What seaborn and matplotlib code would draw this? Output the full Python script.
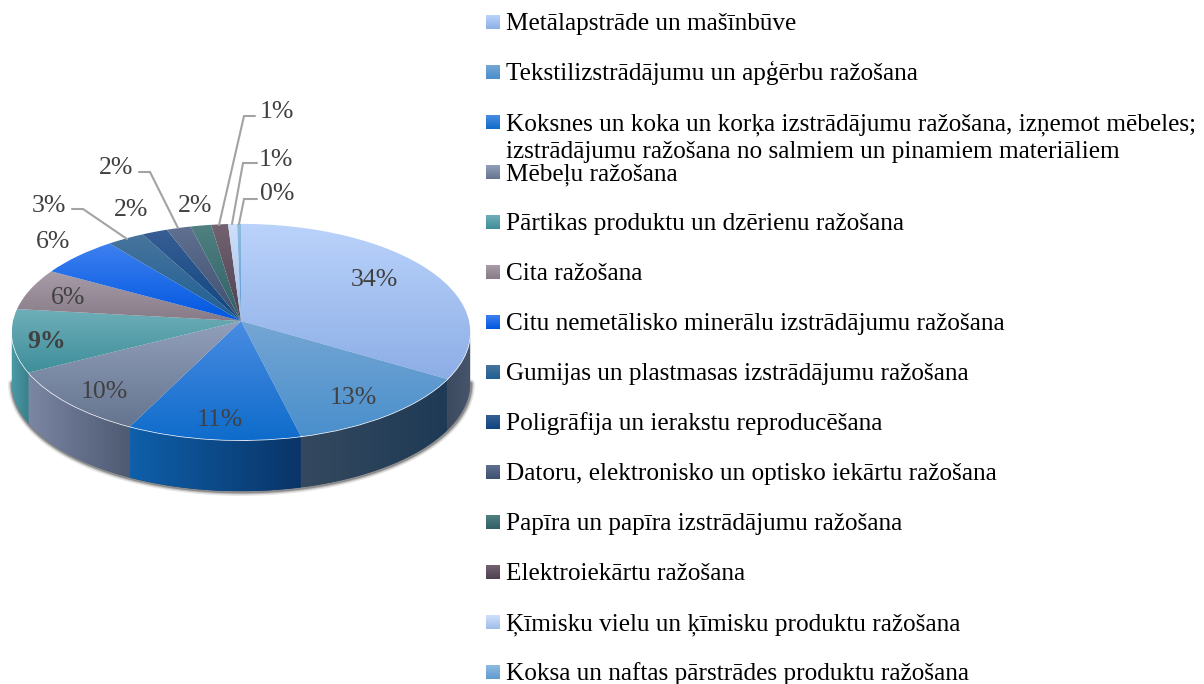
import numpy as np
import matplotlib
matplotlib.use('Agg')
import matplotlib.pyplot as plt
import seaborn as sns
from matplotlib.colors import to_rgb
from matplotlib.patches import Polygon
from matplotlib.transforms import Transform

categories = [
    'Metālapstrāde un mašīnbūve',
    'Tekstilizstrādājumu un apģērbu ražošana',
    'Koksnes un koka un korķa izstrādājumu ražošana, izņemot mēbeles;\nizstrādājumu ražošana no salmiem un pinamiem materiāliem',
    'Mēbeļu ražošana',
    'Pārtikas produktu un dzērienu ražošana',
    'Cita ražošana',
    'Citu nemetālisko minerālu izstrādājumu ražošana',
    'Gumijas un plastmasas izstrādājumu ražošana',
    'Poligrāfija un ierakstu reproducēšana',
    'Datoru, elektronisko un optisko iekārtu ražošana',
    'Papīra un papīra izstrādājumu ražošana',
    'Elektroiekārtu ražošana',
    'Ķīmisku vielu un ķīmisku produktu ražošana',
    'Koksa un naftas pārstrādes produktu ražošana',
]
shares = [33.6, 12.6, 11.1, 10.1, 9.4, 6.3, 6.2, 2.9, 2.0, 1.9, 1.6, 1.3, 0.7, 0.3]

# top face colours, light end and dark end of the gradient
light = ['#BAD3FB', '#75A6D4', '#4A8CE2', '#919FBA', '#6EAEB8', '#A99CA9', '#3E80F0',
         '#47749C', '#375E94', '#5F7090', '#50807F', '#736371', '#CFE0FB', '#8FBBE0']
dark = ['#8DAEE6', '#4A8FCC', '#0F6CCB', '#66758F', '#3E8E9A', '#877B88', '#0057E0',
        '#1F5F95', '#0F4580', '#3F4F6F', '#2F6068', '#4F4050', '#A0BDE8', '#5F9BD0']
# side wall colours, left end and right end
wall_l = ['#3C4A60', '#34495F', '#0F5FAA', '#7A86A3', '#4A9AA6', '#887B88', '#0A4AB0',
          '#1F5F95', '#0F4580', '#3F4F6F', '#2F6068', '#4F4050', '#8DAEE6', '#5F9BD0']
wall_r = ['#46556C', '#1E3A55', '#0A3568', '#4E5A72', '#3A7F8A', '#6A5E6A', '#083A90',
          '#184A75', '#0A3565', '#303D58', '#244C52', '#3E3240', '#7A9AD0', '#4A88C0']

# layout in pixels
CX, CY, RX, RY, K, DEPTH = 241, 321, 228, 107, 0.102, 51
inside_pos = {0: (374, 279.5), 1: (353, 398.5), 2: (220, 419.5), 3: (104, 391.5), 4: (47, 341.5),
              5: (68, 298.5), 6: (53, 241.5), 8: (131, 210.5), 10: (195, 205.5)}
leader_pos = {7: ((49, 205.5), [(72, 209), (83, 209), (127, 239)]),
              9: ((116, 167.5), [(139, 172), (150, 172), (178, 228)]),
              11: ((277, 111.5), [(255, 116), (244, 116), (219, 225)]),
              12: ((276, 159.5), [(257, 163), (243, 163), (232, 224)]),
              13: ((277, 193.5), [(257, 199), (244, 199), (239, 224)])}


class Tilt(Transform):
    """Unit circle to the perspective ellipse of the pie, in pixels."""
    input_dims = 2
    output_dims = 2
    is_separable = False

    def transform_non_affine(self, values):
        values = np.asarray(values, dtype=float)
        v = -values[:, 1]
        s = 1 / (1 - K * v)
        return np.column_stack([CX + RX * values[:, 0] * s, CY + RY * v * s])


def gradient(c0, c1, vertical=True):
    ramp = np.linspace(to_rgb(c0), to_rgb(c1), 64)
    return ramp[:, None, :] if vertical else ramp[None, :, :]


sns.set_theme(style='white')
plt.rcParams['font.family'] = ['Liberation Serif', 'DejaVu Serif']

fig = plt.figure(figsize=(12.04, 6.84), dpi=100)
ax = fig.add_axes([0, 0, 1, 1])
palette = sns.color_palette(dark)

wedges, _ = ax.pie(shares, colors=palette, startangle=90, counterclock=False, radius=1)
ax.set_aspect('auto')
ax.set_xlim(0, 1204)
ax.set_ylim(684, 0)
ax.axis('off')

tilt = Tilt()
# pie angles run from 90 down to -270, the front of the pie is this part
front = (-174.2, -5.8)

# shadow round the wall
t = np.radians(np.linspace(front[0], front[1], 120))
rim = tilt.transform(np.column_stack([np.cos(t), np.sin(t)]))
edge = rim + [0, DEPTH]
for lw, a in [(6, 0.12), (4, 0.2), (2.5, 0.35)]:
    ax.plot(edge[:, 0] + 0.5, edge[:, 1] + 0.5, color='#303030', lw=lw, alpha=a, zorder=1,
            solid_capstyle='round')

for i, w in enumerate(wedges):
    # side wall, its top edge tucked under the top face so no seam shows
    a0, a1 = max(w.theta1, front[0]), min(w.theta2, front[1])
    if a1 > a0:
        t = np.radians(np.linspace(a0, a1, 60))
        rim = tilt.transform(np.column_stack([np.cos(t), np.sin(t)]))
        outline = np.vstack([rim - [0, 2], (rim + [0, DEPTH])[::-1]])
        side = Polygon(outline, closed=True, fc=wall_r[i], ec='none', zorder=2)
        ax.add_patch(side)
        im = ax.imshow(gradient(wall_l[i], wall_r[i], vertical=False), aspect='auto',
                       extent=(outline[:, 0].min(), outline[:, 0].max(),
                               outline[:, 1].max(), outline[:, 1].min()),
                       interpolation='bilinear', zorder=2.1)
        im.set_clip_path(side)

    # top face
    w.set_transform(tilt + ax.transData)
    w.set_zorder(3)
    box = tilt.transform_path(w.get_path()).get_extents()
    im = ax.imshow(gradient(light[i], dark[i]), aspect='auto',
                   extent=(box.x0, box.x1, box.y1, box.y0),
                   interpolation='bilinear', zorder=3.1)
    im.set_clip_path(w)

ax.set_xlim(0, 1204)
ax.set_ylim(684, 0)

# percent labels
pct_style = dict(color='#404040', fontsize=18.5, ha='center', va='center', zorder=6)
for i, (x, y) in inside_pos.items():
    ax.text(x, y, '%.0f%%' % shares[i], fontweight='bold' if i == 4 else 'normal', **pct_style)
for i, ((x, y), line) in leader_pos.items():
    ax.text(x, y, '%.0f%%' % shares[i], **pct_style)
    xs, ys = zip(*line)
    ax.plot(xs, ys, color='#A3A3A3', lw=1.5, zorder=5, solid_joinstyle='miter')

# legend
legend_text = dict(color='black', fontsize=18.2, va='baseline', ha='left')
for i, name in enumerate(categories):
    base = 30 + 50 * i
    ax.imshow(gradient(light[i], dark[i]), aspect='auto', interpolation='bilinear',
              extent=(486, 500, base - 1, base - 15), zorder=4)
    ax.text(506, base, name.split('\n')[0], **legend_text)
    if '\n' in name:
        ax.text(506, base + 28, name.split('\n')[1], **legend_text)

ax.set_xlim(0, 1204)
ax.set_ylim(684, 0)
fig.savefig('out.png', dpi=100, facecolor='white')
plt.close(fig)
